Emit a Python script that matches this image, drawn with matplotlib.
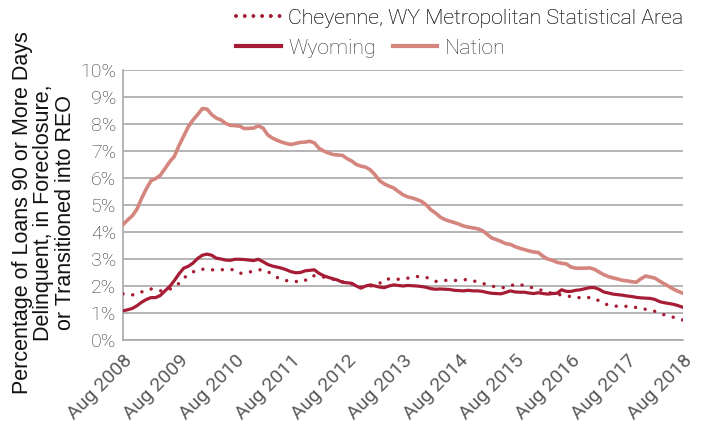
import matplotlib
matplotlib.use("Agg")
import matplotlib.pyplot as plt
from matplotlib.lines import Line2D

tick_labels = ["Aug 2008", "Aug 2009", "Aug 2010", "Aug 2011", "Aug 2012", "Aug 2013",
               "Aug 2014", "Aug 2015", "Aug 2016", "Aug 2017", "Aug 2018"]

nation = [4.27, 4.45, 4.6, 4.85, 5.25, 5.6, 5.9, 5.98, 6.1, 6.35, 6.6, 6.8, 7.2, 7.55, 7.9, 8.15,
          8.35, 8.57, 8.55, 8.35, 8.22, 8.15, 8.02, 7.95, 7.94, 7.92, 7.83, 7.84, 7.85, 7.93, 7.85,
          7.6, 7.48, 7.4, 7.33, 7.28, 7.24, 7.28, 7.32, 7.33, 7.36, 7.3, 7.1, 7.0, 6.93, 6.87, 6.85,
          6.84, 6.72, 6.63, 6.5, 6.44, 6.4, 6.3, 6.12, 5.9, 5.78, 5.7, 5.63, 5.5, 5.38, 5.3, 5.26,
          5.2, 5.13, 5.0, 4.82, 4.7, 4.55, 4.46, 4.4, 4.35, 4.29, 4.22, 4.18, 4.15, 4.12, 4.05, 3.92,
          3.78, 3.72, 3.65, 3.57, 3.54, 3.46, 3.4, 3.35, 3.3, 3.26, 3.24, 3.1, 3.0, 2.95, 2.88, 2.84,
          2.82, 2.7, 2.66, 2.66, 2.66, 2.67, 2.62, 2.52, 2.42, 2.35, 2.3, 2.26, 2.21, 2.19, 2.16,
          2.14, 2.27, 2.37, 2.33, 2.29, 2.18, 2.08, 1.98, 1.88, 1.8, 1.73]

wyoming = [1.08, 1.12, 1.17, 1.27, 1.4, 1.5, 1.57, 1.57, 1.65, 1.82, 1.98, 2.2, 2.45, 2.66, 2.73,
           2.85, 3.02, 3.14, 3.18, 3.14, 3.03, 3.0, 2.96, 2.95, 2.99, 2.99, 2.98, 2.96, 2.94, 2.99,
           2.9, 2.8, 2.74, 2.7, 2.66, 2.6, 2.53, 2.49, 2.5, 2.56, 2.58, 2.6, 2.47, 2.38, 2.32, 2.27,
           2.22, 2.14, 2.12, 2.1, 2.0, 1.92, 2.0, 2.04, 2.0, 1.96, 1.94, 2.0, 2.04, 2.02, 2.0, 2.02,
           2.01, 2.0, 1.98, 1.95, 1.9, 1.88, 1.89, 1.88, 1.87, 1.84, 1.83, 1.82, 1.84, 1.82, 1.82,
           1.8, 1.76, 1.73, 1.72, 1.71, 1.76, 1.82, 1.78, 1.77, 1.77, 1.74, 1.72, 1.75, 1.72, 1.7,
           1.72, 1.73, 1.86, 1.8, 1.8, 1.84, 1.86, 1.9, 1.94, 1.94, 1.88, 1.78, 1.74, 1.7, 1.68,
           1.66, 1.63, 1.61, 1.58, 1.56, 1.55, 1.54, 1.5, 1.42, 1.38, 1.35, 1.32, 1.27, 1.21]

cheyenne = [1.71, 1.7, 1.67, 1.7, 1.78, 1.85, 1.89, 1.86, 1.82, 1.84, 1.88, 1.96, 2.1, 2.29, 2.42,
            2.52, 2.6, 2.62, 2.62, 2.6, 2.59, 2.6, 2.61, 2.62, 2.58, 2.47, 2.48, 2.51, 2.56, 2.6,
            2.6, 2.54, 2.42, 2.32, 2.24, 2.2, 2.19, 2.17, 2.14, 2.2, 2.35, 2.38, 2.36, 2.33, 2.28,
            2.25, 2.2, 2.16, 2.12, 2.08, 2.02, 1.96, 1.98, 2.0, 2.02, 2.1, 2.25, 2.26, 2.25, 2.25,
            2.27, 2.29, 2.32, 2.35, 2.35, 2.32, 2.25, 2.17, 2.19, 2.21, 2.2, 2.2, 2.22, 2.23, 2.24,
            2.2, 2.14, 2.1, 2.05, 2.0, 1.96, 1.94, 1.94, 2.0, 2.07, 2.05, 2.02, 1.97, 1.92, 1.87,
            1.83, 1.77, 1.73, 1.69, 1.67, 1.63, 1.61, 1.57, 1.57, 1.58, 1.57, 1.55, 1.45, 1.35, 1.3,
            1.26, 1.25, 1.24, 1.25, 1.25, 1.2, 1.16, 1.14, 1.1, 1.06, 1.0, 0.93, 0.89, 0.84, 0.79,
            0.74]

months = list(range(len(nation)))

DARK = "#A71C35"
LIGHT = "#D4857D"
GRID = "#A8A8A8"
TXT = "#333333"
FAM = ["Roboto", "DejaVu Sans"]

fig = plt.figure(figsize=(7.01, 4.28), dpi=100)
ax = fig.add_axes([123 / 701, 1 - 340 / 428, 560 / 701, 270 / 428])

ax.plot(months, nation, color=LIGHT, lw=2.6, solid_capstyle="round", solid_joinstyle="round", zorder=3)
ax.plot(months, wyoming, color=DARK, lw=2.3, solid_capstyle="round", solid_joinstyle="round", zorder=4)
ax.plot(months, cheyenne, color=DARK, lw=2.5, linestyle=(0, (0.01, 2.8)), dash_capstyle="round", zorder=5)

ax.set_xlim(0, 120)
ax.set_ylim(0, 10)
ax.set_yticks(range(0, 11))
ax.set_yticklabels([f"{v}%" for v in range(0, 11)])
ax.set_xticks(range(0, 121, 12))
ax.set_xticklabels(tick_labels, rotation=45, ha="right", rotation_mode="anchor")
ax.tick_params(length=0, pad=5, labelcolor=TXT, labelsize=14)
for lab in ax.get_yticklabels():
    lab.set_fontfamily(FAM)
    lab.set_fontweight("light")
for lab in ax.get_xticklabels():
    lab.set_fontfamily(FAM)
    lab.set_fontweight("normal")
    lab.set_color("#5A5A5A")
ax.tick_params(axis="x", pad=8)

ax.grid(axis="y", color=GRID, lw=1.2)
ax.set_axisbelow(True)
for s in ["top", "right"]:
    ax.spines[s].set_visible(False)
for s in ["left", "bottom"]:
    ax.spines[s].set_color(GRID)
    ax.spines[s].set_linewidth(1.2)

fig.text(44 / 701, 1 - 213 / 428,
         "Percentage of Loans 90 or More Days\nDelinquent, in Foreclosure,\nor Transitioned into REO",
         rotation=90, ha="center", va="center", fontsize=15.5, family="Liberation Sans",
         linespacing=1.05, color="#111111")

prop = dict(family=FAM, weight="light", size=15.3)
h1 = [Line2D([], [], color=DARK, lw=2.6, linestyle=(0, (0.01, 2.4)), dash_capstyle="round")]
leg1 = fig.legend(h1, ["Cheyenne, WY Metropolitan Statistical Area"], loc="center left",
                  bbox_to_anchor=(236 / 701, 1 - 18 / 428), frameon=False, handlelength=2.1,
                  handletextpad=0.35, borderpad=0, borderaxespad=0, prop=prop)
for t in leg1.get_texts():
    t.set_color("#333333")
h2 = [Line2D([], [], color=DARK, lw=3.0), Line2D([], [], color=LIGHT, lw=3.0)]
leg2 = fig.legend(h2, ["Wyoming", "Nation"], loc="center left", ncol=2,
                  bbox_to_anchor=(236 / 701, 1 - 48 / 428), frameon=False, handlelength=2.1,
                  handletextpad=0.35, columnspacing=0.8, borderpad=0, borderaxespad=0, prop=prop)
for t in leg2.get_texts():
    t.set_color("#333333")
fig.add_artist(leg1)

fig.savefig("out.png", dpi=100)
